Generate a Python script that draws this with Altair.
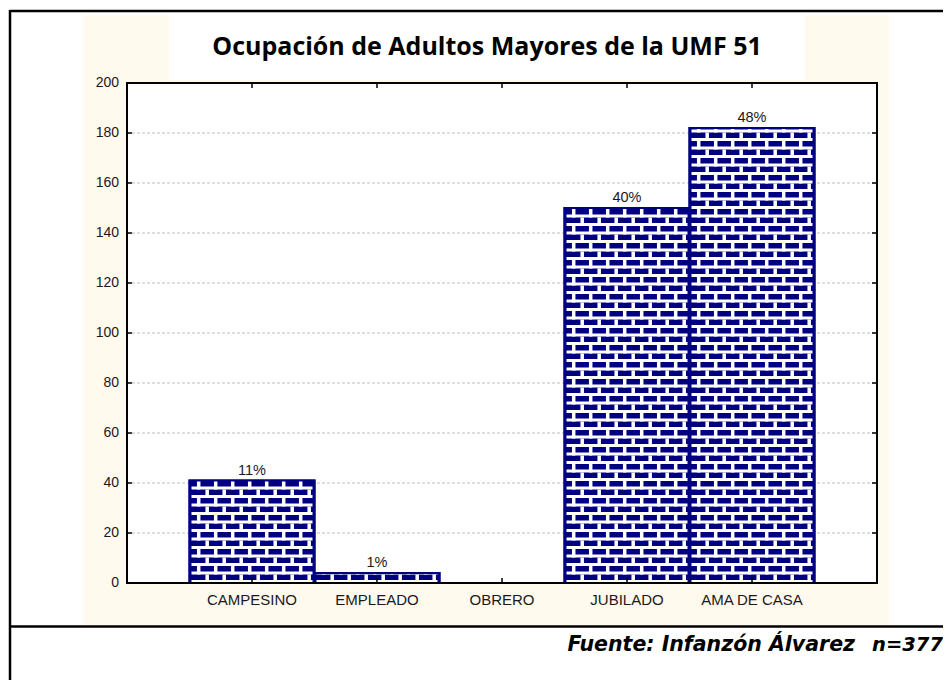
import altair as alt
import pandas as pd

# ---- data ----
categories = ["CAMPESINO", "EMPLEADO", "OBRERO", "JUBILADO", "AMA DE CASA"]
counts = [41, 4, 0, 150, 182]
pct_labels = ["11%", "1%", "", "40%", "48%"]
y_ticks = [0, 20, 40, 60, 80, 100, 120, 140, 160, 180, 200]
grid_values = [20, 40, 60, 80, 100, 120, 140, 160, 180]
chart_title = "Ocupación de Adultos Mayores de la UMF 51"
source_text = "Fuente: Infanzón Álvarez"
n_text = "n=377"

df = pd.DataFrame({"cat": categories, "n": counts, "pct": pct_labels})
ticks_df = pd.DataFrame({"n": y_ticks})
grid_df = pd.DataFrame({"n": grid_values})
one = pd.DataFrame({"k": [0]})

W, H = 750, 500
NAVY = "#000080"
BEIGE = "#FFF9EE"
LABEL_FONT = "Liberation Sans"
LABEL_COLOR = "#1a1a1a"

xscale = alt.Scale(type="band", domain=categories, paddingInner=0, paddingOuter=0.5)
yscale = alt.Scale(domain=[0, 200], nice=False, zero=True)


def xq():
    return alt.X("cat:N", sort=categories, scale=xscale, axis=None, title=None)


def yq(field="n"):
    return alt.Y(f"{field}:Q", scale=yscale, axis=None, title=None)


# ---- background panels ----
bg = alt.Chart(one).mark_rect(color=BEIGE).encode(
    x=alt.value(-44), x2=alt.value(762), y=alt.value(-68), y2=alt.value(542))
title_box = alt.Chart(one).mark_rect(color="white").encode(
    x=alt.value(42), x2=alt.value(678), y=alt.value(-68), y2=alt.value(-3))
plot_bg = alt.Chart(one).mark_rect(color="white").encode(
    x=alt.value(0), x2=alt.value(W), y=alt.value(0), y2=alt.value(H))

grid = alt.Chart(grid_df).mark_rule(color="#bdbdbd", strokeDash=[3, 2], strokeWidth=1).encode(
    y=yq(), x=alt.value(0), x2=alt.value(W))

# ---- bars with brick texture ----
bars = alt.Chart(df).transform_filter("datum.n > 0").mark_bar(
    color=NAVY, stroke=NAVY, strokeWidth=2).encode(x=xq(), y=yq())

P = 8.5
mortar_h = alt.Chart(df).transform_filter("datum.n > 0").transform_calculate(z="0").mark_rule(
    color="white", strokeWidth=121, strokeDash=[3, P - 3]).encode(
    x=xq(), y=yq("z"), y2=alt.Y2("n:Q"))

mortar_v_layers = []
for j in range(1, 15):
    off = -61.8 + P * j
    mortar_v_layers.append(
        alt.Chart(df).transform_filter("datum.n > 0").transform_calculate(z="0").mark_rule(
            color="white", strokeWidth=3.5, strokeDash=[P, P],
            strokeDashOffset=(0 if j % 2 == 0 else P), xOffset=off).encode(
            x=xq(), y=yq("z"), y2=alt.Y2("n:Q")))

bar_outline = alt.Chart(df).transform_filter("datum.n > 0").mark_bar(
    fillOpacity=0, stroke=NAVY, strokeWidth=2).encode(x=xq(), y=yq())

# ---- ticks, labels and frame ----
yt_left = alt.Chart(ticks_df).mark_rule(color="black", strokeWidth=1.5).encode(
    y=yq(), x=alt.value(0), x2=alt.value(5))
yt_right = alt.Chart(ticks_df).mark_rule(color="black", strokeWidth=1.5).encode(
    y=yq(), x=alt.value(W - 5), x2=alt.value(W))
xt_bottom = alt.Chart(df).mark_rule(color="black", strokeWidth=1.5).encode(
    x=xq(), y=alt.value(H - 5), y2=alt.value(H))
xt_top = alt.Chart(df).mark_rule(color="black", strokeWidth=1.5).encode(
    x=xq(), y=alt.value(0), y2=alt.value(5))
frame = alt.Chart(one).mark_rect(fillOpacity=0, stroke="black", strokeWidth=2).encode(
    x=alt.value(0), x2=alt.value(W), y=alt.value(0), y2=alt.value(H))

y_labels = alt.Chart(ticks_df).mark_text(align="right", baseline="middle", font=LABEL_FONT,
                                         fontSize=14, color=LABEL_COLOR).encode(
    y=yq(), x=alt.value(-8), text="n:Q")
x_labels = alt.Chart(df).mark_text(align="center", baseline="top", font=LABEL_FONT,
                                   fontSize=15, color=LABEL_COLOR).encode(
    x=xq(), y=alt.value(H + 10), text="cat:N")

pct = alt.Chart(df).mark_text(yOffset=-6, baseline="alphabetic", font=LABEL_FONT,
                              fontSize=14.5, color=LABEL_COLOR).encode(
    x=xq(), y=yq(), text="pct:N")

title = alt.Chart(one).mark_text(text=chart_title, font="Open Sans", fontWeight="bold",
                                 fontSize=25, align="center", baseline="alphabetic",
                                 color="black").encode(x=alt.value(360), y=alt.value(-28))

src = alt.Chart(one).mark_text(text=source_text, font="DejaVu Sans", fontWeight="bold",
                               fontStyle="italic", fontSize=20.5, align="right",
                               baseline="alphabetic", color="black").encode(
    x=alt.value(728), y=alt.value(568))
ntx = alt.Chart(one).mark_text(text=n_text, font="DejaVu Sans", fontWeight="bold",
                               fontStyle="italic", fontSize=19.5, align="right",
                               baseline="alphabetic", color="black").encode(
    x=alt.value(816), y=alt.value(568))

# ---- outer page frame ----
top_line = alt.Chart(one).mark_rule(color="black", strokeWidth=2.5).encode(
    x=alt.value(-117), x2=alt.value(830), y=alt.value(-72))
left_line = alt.Chart(one).mark_rule(color="black", strokeWidth=2.5).encode(
    x=alt.value(-117), y=alt.value(-73), y2=alt.value(600))
mid_line = alt.Chart(one).mark_rule(color="black", strokeWidth=2.5).encode(
    x=alt.value(-117), x2=alt.value(830), y=alt.value(543.5))

chart = alt.layer(
    bg, title_box, plot_bg, grid, bars, mortar_h, *mortar_v_layers, bar_outline,
    yt_left, yt_right, xt_bottom, xt_top, frame, y_labels, x_labels, pct, title, src, ntx,
    top_line, left_line, mid_line
).properties(
    width=W, height=H,
    padding={"left": 119, "top": 75, "right": 66, "bottom": 97},
    autosize=alt.AutoSizeParams(type="none"),
).configure_view(stroke="transparent")

chart.save("out.html", embed_options={"renderer": "svg", "actions": False})
